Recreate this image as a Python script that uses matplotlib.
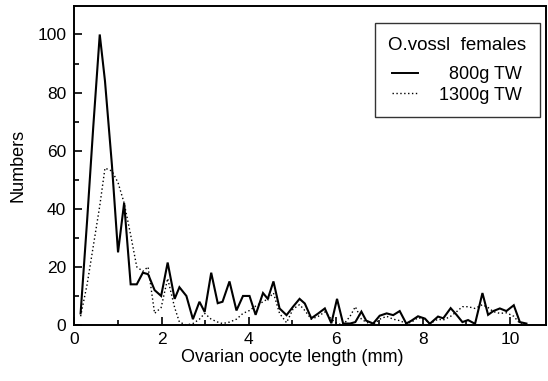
import matplotlib
matplotlib.use("Agg")
import matplotlib.pyplot as plt
from matplotlib.ticker import MultipleLocator
from matplotlib.lines import Line2D

plt.rcParams['font.family'] = ['Liberation Sans', 'DejaVu Sans']

length_mm = [0.14, 0.29, 0.43, 0.58, 0.70, 0.86, 1.00, 1.14, 1.29, 1.43,
             1.57, 1.69, 1.84, 1.99, 2.14, 2.30, 2.41, 2.57, 2.72, 2.87,
             2.99, 3.14, 3.29, 3.40, 3.56, 3.72, 3.87, 4.02, 4.16, 4.33,
             4.44, 4.57, 4.71, 4.87, 5.02, 5.17, 5.29, 5.44, 5.60, 5.75,
             5.90, 6.03, 6.17, 6.33, 6.45, 6.59, 6.70, 6.86, 7.01, 7.17,
             7.32, 7.47, 7.62, 7.74, 7.89, 8.05, 8.16, 8.35, 8.47, 8.64,
             8.77, 8.91, 9.04, 9.20, 9.37, 9.50, 9.62, 9.77, 9.92, 10.09,
             10.23, 10.38]

tw800 = [4, 36, 68, 100, 84, 55, 25, 42, 14, 14,
         18, 17.5, 12, 10, 21.5, 9, 13, 10, 2, 8,
         4.5, 18, 7.5, 8, 15, 5, 10, 10, 3.5, 11,
         9, 15, 5.7, 3.4, 6.3, 9, 7.4, 2.3, 4, 5.7,
         0.6, 9, 0.5, 0.5, 1, 4.6, 1.5, 0.5, 3.2, 4,
         3.4, 4.8, 0.5, 1.5, 3, 2.2, 0.4, 2.9, 2.3, 5.8,
         3.6, 1, 1.7, 0.4, 11, 3.5, 4.8, 5.7, 4.8, 6.8,
         1, 0.5]

tw1300 = [3, 14, 27, 41, 54, 53, 49, 42, 31, 20,
          18.5, 20, 4, 6, 16, 6, 1, 0, 0.5, 2,
          4, 2, 1, 0.5, 1, 2, 4, 5, 6.5, 8,
          9, 11, 4, 0.8, 5.5, 7, 5, 2, 3, 4.5,
          2, 0.5, 0, 3, 6.3, 2, 1, 0, 2, 3,
          2, 1.5, 0.5, 1, 2.5, 2, 0.5, 2, 1.7, 3,
          4.5, 6.3, 6.3, 5.7, 7, 6, 4.6, 4, 4.2, 3,
          0.5, 0]

series_labels = ['\u2007800g TW', '1300g TW']
legend_title = 'O.vossl  females'

fig = plt.figure(figsize=(5.48, 3.81), dpi=100)
ax = fig.add_axes([74.5 / 548, 56 / 381, (546 - 74.5) / 548, (325 - 6) / 381])

ax.plot(length_mm, tw800, color='black', lw=1.5, solid_joinstyle='miter')
ax.plot(length_mm, tw1300, color='black', lw=1.0, linestyle=(0, (1, 1.8)))

ax.set_xlim(0, 10.83)
ax.set_ylim(0, 109.8)
ax.xaxis.set_major_locator(MultipleLocator(2))
ax.xaxis.set_minor_locator(MultipleLocator(1))
ax.yaxis.set_major_locator(MultipleLocator(20))
ax.yaxis.set_minor_locator(MultipleLocator(10))
ax.tick_params(which='both', direction='in', top=False, right=False, width=1.2)
ax.tick_params(which='major', length=6, labelsize=12.5)
ax.tick_params(axis='y', which='major', pad=6)
ax.tick_params(axis='x', which='major', pad=5)
ax.tick_params(which='minor', length=3.5)
for s in ax.spines.values():
    s.set_linewidth(1.4)

ax.set_xlabel('Ovarian oocyte length (mm)', fontsize=13)
ax.xaxis.set_label_coords((292 - 74.5) / (546 - 74.5), -(358 - 325) / (325 - 6), transform=ax.transAxes)
ax.xaxis.label.set_va('center')
ax.set_ylabel('Numbers', fontsize=13)
ax.yaxis.set_label_coords(-(74.5 - 18) / (546 - 74.5), 0.5, transform=ax.transAxes)
ax.yaxis.label.set_va('center')

handles = [Line2D([], [], color='black', lw=1.4),
           Line2D([], [], color='black', lw=1.0, linestyle=(0, (1, 1.8)))]
leg = ax.legend(handles, series_labels, title=legend_title,
                loc='upper right',
                bbox_to_anchor=((540 - 74.5) / (546 - 74.5), (325 - 23) / (325 - 6)),
                borderaxespad=0,
                fontsize=13, title_fontsize=13.5, frameon=True, fancybox=False,
                edgecolor='black', handlelength=1.4, handletextpad=1.2,
                borderpad=0.75, labelspacing=0.2)
leg.get_frame().set_linewidth(1.0)
leg._legend_box.align = 'center'
leg._legend_box.sep = 9

fig.savefig('out.png', dpi=100)
